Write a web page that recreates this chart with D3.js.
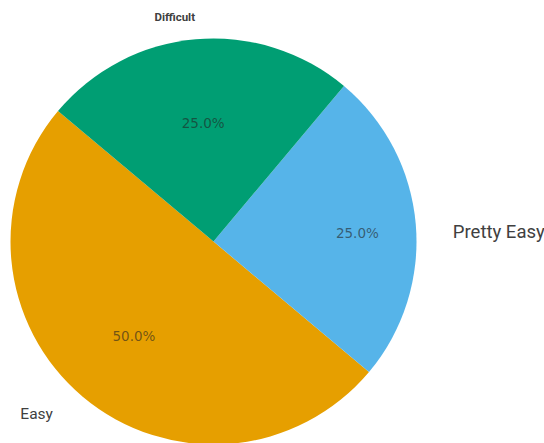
<!DOCTYPE html>
<html>
<head>
<meta charset="utf-8">
<script src="https://cdn.jsdelivr.net/npm/d3@7"></script>
<style>
  body { margin: 0; background: white; }
</style>
</head>
<body>
<div id="container"></div>
<script>
let categories = ["Easy", "Pretty Easy", "Difficult"];
let values = [50, 25, 25];
let colors = ["#E69F00", "#56B4E9", "#009E73"];

let w = 544;
let h = 443;

// label placement, tuned by eye
let pctRadius = [0.61, 0.71, 0.585];
let pctShift = [0, 1.6, 0];
let nameRadius = [1.16, 1.18, 1.11];
let nameShift = [3, 2.7, 0.3];
let nameSize = [15.5, 18.5, 11.5];

let viz = d3.select("#container")
  .append("svg")
    .attr("width", w)
    .attr("height", h)
    .style("background-color", "white")
;

let r = 203;
let g = viz.append("g").attr("transform", "translate(213.5,241.5)");

let total = d3.sum(values);
let data = categories.map((c, i) => ({name: c, value: values[i], i: i}));

// counterclockwise, first wedge starting at upper left
let pie = d3.pie()
    .value(d => d.value)
    .sort(null)
    .startAngle(-50 * Math.PI / 180)
    .endAngle(-410 * Math.PI / 180)
;

let arcs = pie(data);

let arc = d3.arc().innerRadius(0).outerRadius(r);

g.selectAll("path").data(arcs).enter()
  .append("path")
    .attr("d", arc)
    .attr("fill", d => colors[d.data.i])
;

function labelPos(d, k, shift) {
    let a = (d.startAngle + d.endAngle) / 2 + (shift || 0) * Math.PI / 180;
    return [Math.sin(a) * r * k, -Math.cos(a) * r * k];
}

g.selectAll(".pct").data(arcs).enter()
  .append("text")
    .classed("pct", true)
    .text(d => (d.value / total * 100).toFixed(1) + "%")
    .attr("x", d => labelPos(d, pctRadius[d.data.i], pctShift[d.data.i])[0])
    .attr("y", d => labelPos(d, pctRadius[d.data.i], pctShift[d.data.i])[1])
    .attr("text-anchor", "middle")
    .attr("dominant-baseline", "central")
    .attr("fill", "#222")
    .attr("fill-opacity", 0.6)
    .style("font-family", "'DejaVu Sans', sans-serif")
    .style("font-size", "13.5px")
;

g.selectAll(".name").data(arcs).enter()
  .append("text")
    .classed("name", true)
    .text(d => d.data.name)
    .attr("x", d => labelPos(d, nameRadius[d.data.i], nameShift[d.data.i])[0])
    .attr("y", d => labelPos(d, nameRadius[d.data.i], nameShift[d.data.i])[1])
    .attr("text-anchor", d => labelPos(d, 1)[0] < 0 ? "end" : "start")
    .attr("dominant-baseline", "central")
    .attr("fill", "#404040")
    .style("font-family", "Roboto, sans-serif")
    .style("font-weight", d => d.data.i == 2 ? "bold" : "normal")
    .style("font-size", d => nameSize[d.data.i] + "px")
;
</script>
</body>
</html>
